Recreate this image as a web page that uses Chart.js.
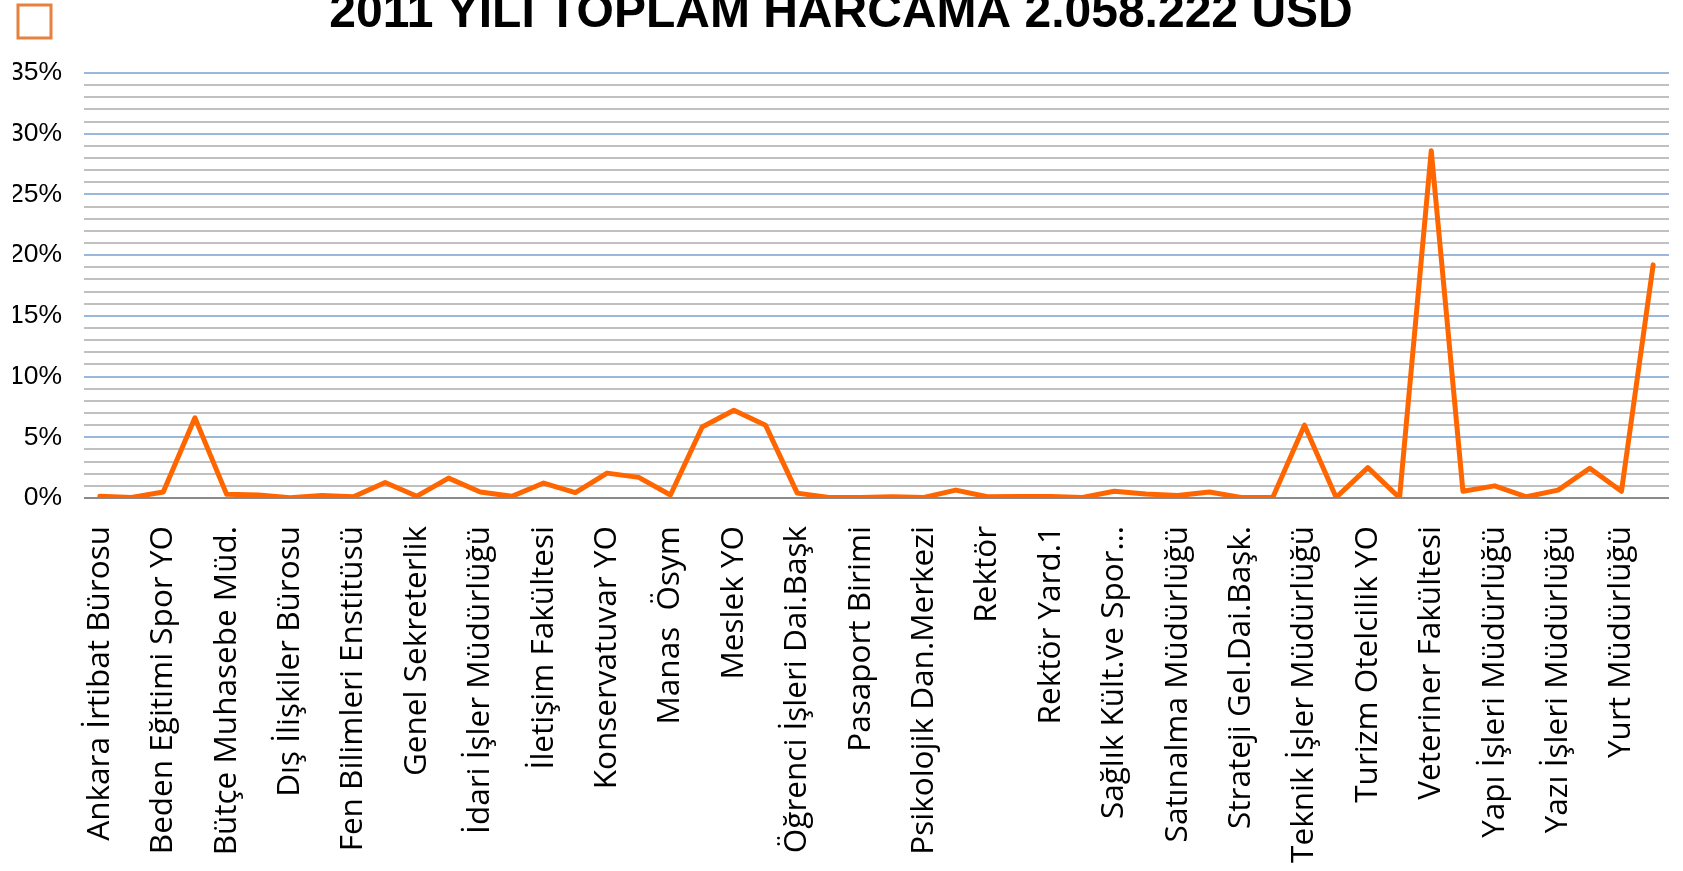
<!DOCTYPE html>
<html>
<head>
<meta charset="utf-8">
<title>2011 Yılı Toplam Harcama</title>
<script src="https://cdn.jsdelivr.net/npm/chart.js@4/dist/chart.umd.min.js"></script>
<style>
  html, body { margin: 0; padding: 0; background: #fff; }
  #wrap { width: 1683px; height: 871px; }
</style>
</head>
<body>
<div id="wrap">
  <canvas id="chart" width="1683" height="871"></canvas>
</div>
<script>
// units, odd ones are not labelled on the axis
const units = [
  "Ankara İrtibat Bürosu", "",
  "Beden Eğitimi Spor YO", "",
  "Bütçe Muhasebe Müd.", "",
  "Dış İlişkiler Bürosu", "",
  "Fen Bilimleri Enstitüsü", "",
  "Genel Sekreterlik", "",
  "İdari İşler Müdürlüğü", "",
  "İletişim Fakültesi", "",
  "Konservatuvar YO", "",
  "Manas  Ösym", "",
  "Meslek YO", "",
  "Öğrenci İşleri Dai.Başk", "",
  "Pasaport Birimi", "",
  "Psikolojik Dan.Merkezi", "",
  "Rektör", "",
  "Rektör Yard.1", "",
  "Sağlık Kült.ve Spor…", "",
  "Satınalma Müdürlüğü", "",
  "Strateji Gel.Dai.Başk.", "",
  "Teknik İşler Müdürlüğü", "",
  "Turizm Otelcilik YO", "",
  "Veteriner Fakültesi", "",
  "Yapı İşleri Müdürlüğü", "",
  "Yazı İşleri Müdürlüğü", "",
  "Yurt Müdürlüğü", ""
];

// share of total spending, percent
const shares = [
  0.15, 0.05, 0.5, 6.6, 0.3, 0.25, 0.02, 0.2, 0.1, 1.28,
  0.15, 1.64, 0.5, 0.14, 1.23, 0.45, 2.05, 1.7, 0.25, 5.85,
  7.22, 6.0, 0.4, 0.05, 0.05, 0.1, 0.05, 0.65, 0.1, 0.12,
  0.12, 0.05, 0.55, 0.33, 0.2, 0.5, 0.05, 0.05, 6.0, 0.05,
  2.5, 0.02, 28.6, 0.55, 1.0, 0.1, 0.65, 2.45, 0.55, 19.2
];

const yMax = 35;
const titleText = "2011 YILI TOPLAM HARCAMA 2.058.222 USD";

const gridColor = (ctx) => {
  const v = ctx.tick.value;
  if (v === 0) return "#8a8a8a";
  return v % 5 === 0 ? "#9bb8da" : "#c0c0c0";
};

new Chart(document.getElementById("chart"), {
  type: "line",
  data: {
    labels: units,
    datasets: [{
      label: "",
      data: shares,
      borderColor: "#ff6600",
      backgroundColor: "#ff6600",
      borderWidth: 5,
      borderJoinStyle: "round",
      borderCapStyle: "round",
      pointRadius: 0,
      tension: 0,
      fill: false
    }]
  },
  options: {
    responsive: false,
    animation: false,
    layout: { padding: { left: 13, right: 14, top: 0, bottom: 0 } },
    plugins: {
      tooltip: { enabled: false },
      legend: {
        position: "top",
        align: "start",
        weight: 3000,
        labels: {
          boxWidth: 33,
          boxHeight: 33,
          padding: 5,
          font: { size: 12 },
          generateLabels: () => [{
            text: "",
            fillStyle: "#ffffff",
            strokeStyle: "#e5823f",
            lineWidth: 3,
            hidden: false,
            datasetIndex: 0
          }]
        }
      },
      title: {
        display: true,
        text: titleText,
        color: "#000",
        font: { family: "'Liberation Sans', Arial, sans-serif", size: 48, weight: "bold", lineHeight: 1 },
        padding: { top: -58, bottom: 35 }
      }
    },
    scales: {
      x: {
        offset: true,
        grid: { display: false },
        border: { display: false },
        afterFit: (scale) => {
          scale.height = 373;
          scale.paddingLeft = 0;
          scale.paddingRight = 0;
        },
        ticks: {
          autoSkip: false,
          minRotation: 90,
          maxRotation: 90,
          padding: 20,
          color: "#000",
          font: { family: "'Open Sans', sans-serif", size: 31.5 }
        }
      },
      y: {
        min: 0,
        max: yMax,
        border: { display: false },
        grid: { color: gridColor, lineWidth: 2, drawTicks: false },
        afterFit: (scale) => { scale.width = 71; },
        ticks: {
          stepSize: 1,
          maxTicksLimit: 100,
          autoSkip: false,
          padding: 22,
          color: "#000",
          font: { family: "'Liberation Sans', Arial, sans-serif", size: 26.5 },
          callback: (v) => (v % 5 === 0 ? v + "%" : "")
        }
      }
    }
  }
});
</script>
</body>
</html>
